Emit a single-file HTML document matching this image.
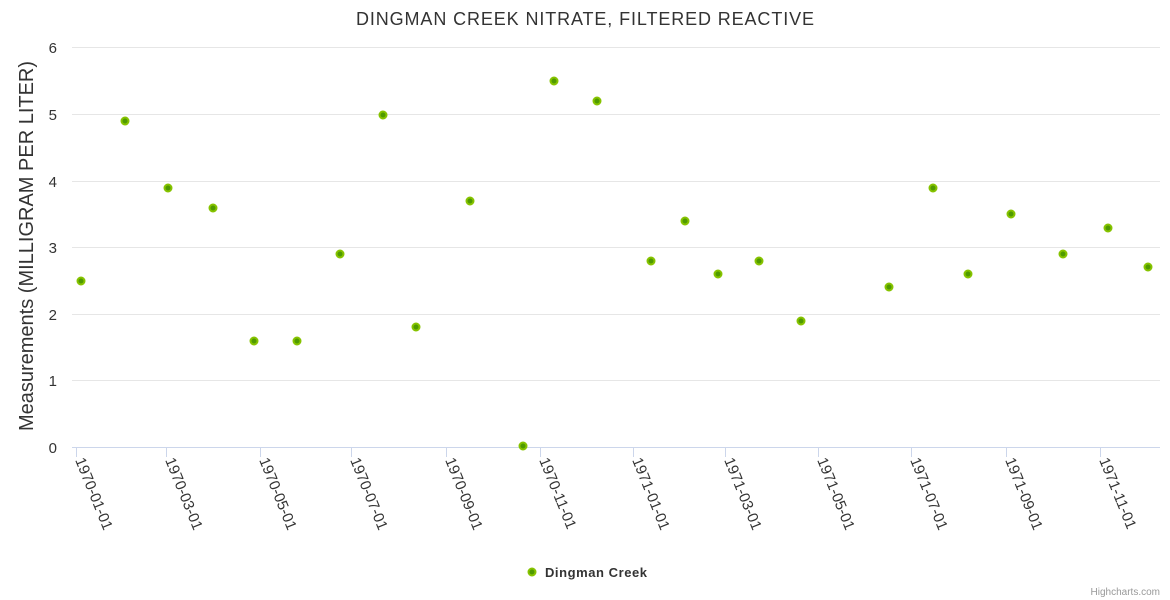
<!DOCTYPE html>
<html><head><meta charset="utf-8"><style>html,body{margin:0;padding:0;background:#fff}svg{display:block}</style></head>
<body>
<svg width="1170" height="600" xmlns="http://www.w3.org/2000/svg" font-family="'Liberation Sans', 'DejaVu Sans', sans-serif">
<rect width="1170" height="600" fill="#fff"/>
<text x="585" y="25" text-anchor="middle" font-size="18" fill="#333" textLength="458" lengthAdjust="spacing">DINGMAN CREEK NITRATE, FILTERED REACTIVE</text>
<g stroke="#e6e6e6" stroke-width="1">
<line x1="72" x2="1160" y1="47.5" y2="47.5"/>
<line x1="72" x2="1160" y1="114.5" y2="114.5"/>
<line x1="72" x2="1160" y1="181.5" y2="181.5"/>
<line x1="72" x2="1160" y1="247.5" y2="247.5"/>
<line x1="72" x2="1160" y1="314.5" y2="314.5"/>
<line x1="72" x2="1160" y1="380.5" y2="380.5"/>
</g>
<line x1="72" x2="1160" y1="447.5" y2="447.5" stroke="#ccd6eb"/>
<g font-size="15" fill="#333" text-anchor="end">
<text x="57" y="53">6</text><text x="57" y="120">5</text><text x="57" y="187">4</text><text x="57" y="253">3</text><text x="57" y="320">2</text><text x="57" y="386">1</text><text x="57" y="453">0</text>
</g>
<text transform="translate(33,246) rotate(-90)" text-anchor="middle" font-size="20" fill="#333">Measurements (MILLIGRAM PER LITER)</text>
<g stroke="#ccd6eb">
<line x1="76.5" x2="76.5" y1="447" y2="457"/><line x1="166.5" x2="166.5" y1="447" y2="457"/><line x1="260.5" x2="260.5" y1="447" y2="457"/><line x1="351.5" x2="351.5" y1="447" y2="457"/><line x1="446.5" x2="446.5" y1="447" y2="457"/><line x1="540.5" x2="540.5" y1="447" y2="457"/><line x1="633.5" x2="633.5" y1="447" y2="457"/><line x1="725.5" x2="725.5" y1="447" y2="457"/><line x1="818.5" x2="818.5" y1="447" y2="457"/><line x1="911.5" x2="911.5" y1="447" y2="457"/><line x1="1006.5" x2="1006.5" y1="447" y2="457"/><line x1="1100.5" x2="1100.5" y1="447" y2="457"/>
</g>
<g font-size="15" fill="#333">
<text transform="translate(75,460) rotate(68)">1970-01-01</text>
<text transform="translate(165,460) rotate(68)">1970-03-01</text>
<text transform="translate(259,460) rotate(68)">1970-05-01</text>
<text transform="translate(350,460) rotate(68)">1970-07-01</text>
<text transform="translate(445,460) rotate(68)">1970-09-01</text>
<text transform="translate(539,460) rotate(68)">1970-11-01</text>
<text transform="translate(632,460) rotate(68)">1971-01-01</text>
<text transform="translate(724,460) rotate(68)">1971-03-01</text>
<text transform="translate(817,460) rotate(68)">1971-05-01</text>
<text transform="translate(910,460) rotate(68)">1971-07-01</text>
<text transform="translate(1005,460) rotate(68)">1971-09-01</text>
<text transform="translate(1099,460) rotate(68)">1971-11-01</text>
</g>
<g fill="#4f9a00" stroke="#86c300" stroke-width="2">
<circle cx="81" cy="281" r="3.5"/><circle cx="125" cy="121" r="3.5"/><circle cx="168" cy="188" r="3.5"/><circle cx="213" cy="208" r="3.5"/><circle cx="254" cy="341" r="3.5"/><circle cx="297" cy="341" r="3.5"/><circle cx="340" cy="254" r="3.5"/><circle cx="383" cy="115" r="3.5"/><circle cx="416" cy="327" r="3.5"/><circle cx="470" cy="201" r="3.5"/><circle cx="523" cy="446" r="3.5"/><circle cx="554" cy="81" r="3.5"/><circle cx="597" cy="101" r="3.5"/><circle cx="651" cy="261" r="3.5"/><circle cx="685" cy="221" r="3.5"/><circle cx="718" cy="274" r="3.5"/><circle cx="759" cy="261" r="3.5"/><circle cx="801" cy="321" r="3.5"/><circle cx="889" cy="287" r="3.5"/><circle cx="933" cy="188" r="3.5"/><circle cx="968" cy="274" r="3.5"/><circle cx="1011" cy="214" r="3.5"/><circle cx="1063" cy="254" r="3.5"/><circle cx="1108" cy="228" r="3.5"/><circle cx="1148" cy="267" r="3.5"/>
<circle cx="532" cy="572" r="3.5"/>
</g>
<text x="545" y="577" font-size="13" font-weight="bold" fill="#333" textLength="102" lengthAdjust="spacing">Dingman Creek</text>
<text x="1160" y="595" text-anchor="end" font-size="10" fill="#999">Highcharts.com</text>
</svg>
</body></html>
